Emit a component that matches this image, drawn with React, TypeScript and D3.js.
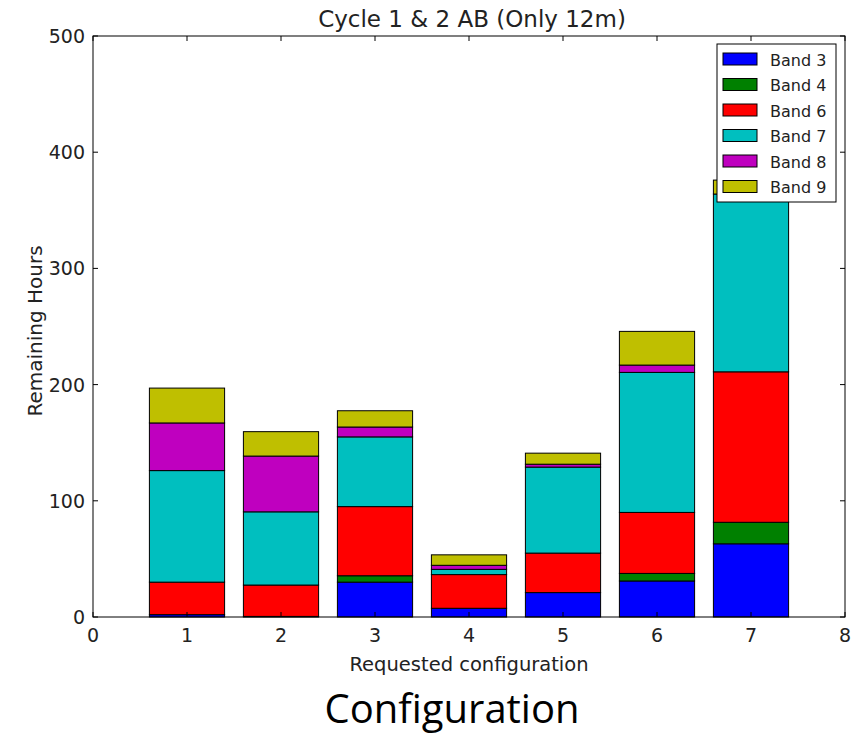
import React from "react";
import * as d3 from "d3";

const configs = [1, 2, 3, 4, 5, 6, 7];
const bandNames = ["Band 3", "Band 4", "Band 6", "Band 7", "Band 8", "Band 9"];
const bandColors = ["#0000ff", "#008000", "#ff0000", "#00bfbf", "#bf00bf", "#bfbf00"];
const band3 = [2, 0.5, 30, 7.5, 21, 31, 63];
const band4 = [0, 0, 5.5, 0, 0, 6.5, 18.5];
const band6 = [28, 27, 59.5, 29, 34, 52.5, 129.5];
const band7 = [96, 63, 60, 4.5, 74, 120.5, 153];
const band8 = [41, 48, 8.5, 3.5, 2.5, 6.3, 0];
const band9 = [30, 21, 14, 9, 9.5, 29, 12];
const xTicks = [0, 1, 2, 3, 4, 5, 6, 7, 8];
const yTicks = [0, 100, 200, 300, 400, 500];

const W = 852, H = 735;
const L = 93, R = 845, T = 36, B = 617;

export default function App() {
  const series = [band3, band4, band6, band7, band8, band9];
  const x = d3.scaleLinear().domain([0, 8]).range([L, R]);
  const y = d3.scaleLinear().domain([0, 500]).range([B, T]);
  const barW = 0.8;
  const rects: JSX.Element[] = [];
  configs.forEach((c, i) => {
    let base = 0;
    series.forEach((s, j) => {
      const v = s[i];
      const top = base + v;
      rects.push(
        <rect key={`${i}-${j}`} x={x(c - barW / 2)} y={y(top)} width={x(c + barW / 2) - x(c - barW / 2)}
          height={y(base) - y(top)} fill={bandColors[j]} stroke="#000" strokeWidth={1} />
      );
      base = top;
    });
  });
  const tickFont = "DejaVu Sans, sans-serif";
  const lx = 717, ly = 44, lw = 119, lh = 158;
  return (
    <svg width={W} height={H} style={{ position: "absolute", left: 0, top: 0 }}>
      <rect x={0} y={0} width={W} height={H} fill="#fff" />
      {rects}
      <rect x={L} y={T} width={R - L} height={B - T} fill="none" stroke="#000" strokeWidth={1} />
      {xTicks.map(t => (
        <g key={"x" + t}>
          <line x1={x(t)} x2={x(t)} y1={B} y2={B - 5} stroke="#000" />
          <line x1={x(t)} x2={x(t)} y1={T} y2={T + 5} stroke="#000" />
          <text x={x(t)} y={642} textAnchor="middle" fontFamily={tickFont} fontSize={19} fill="#222">{t}</text>
        </g>
      ))}
      {yTicks.map(t => (
        <g key={"y" + t}>
          <line x1={L} x2={L + 5} y1={y(t)} y2={y(t)} stroke="#000" />
          <line x1={R} x2={R - 5} y1={y(t)} y2={y(t)} stroke="#000" />
          <text x={85} y={y(t) + 7} textAnchor="end" fontFamily={tickFont} fontSize={19} fill="#222">{t}</text>
        </g>
      ))}
      <text x={472} y={27} textAnchor="middle" fontFamily={tickFont} fontSize={23} fill="#222">Cycle 1 &amp; 2 AB (Only 12m)</text>
      <text x={(L + R) / 2} y={671} textAnchor="middle" fontFamily={tickFont} fontSize={19.5} fill="#222">Requested configuration</text>
      <text transform={`translate(42, 331) rotate(-90)`} textAnchor="middle" fontFamily={tickFont} fontSize={20} fill="#222">Remaining Hours</text>
      <g>
        <rect x={lx} y={ly} width={lw} height={lh} fill="#fff" stroke="#000" strokeWidth={1} />
        {bandNames.map((n, i) => (
          <g key={n}>
            <rect x={723} y={53 + i * 25.5} width={34} height={12} fill={bandColors[i]} stroke="#000" strokeWidth={1} />
            <text x={770} y={65.5 + i * 25.5} fontFamily={tickFont} fontSize={16} fill="#222">{n}</text>
          </g>
        ))}
      </g>
      <text x={452} y={723} textAnchor="middle" fontFamily="Open Sans, Lato, sans-serif" fontSize={40} fill="#000">Configuration</text>
    </svg>
  );
}
